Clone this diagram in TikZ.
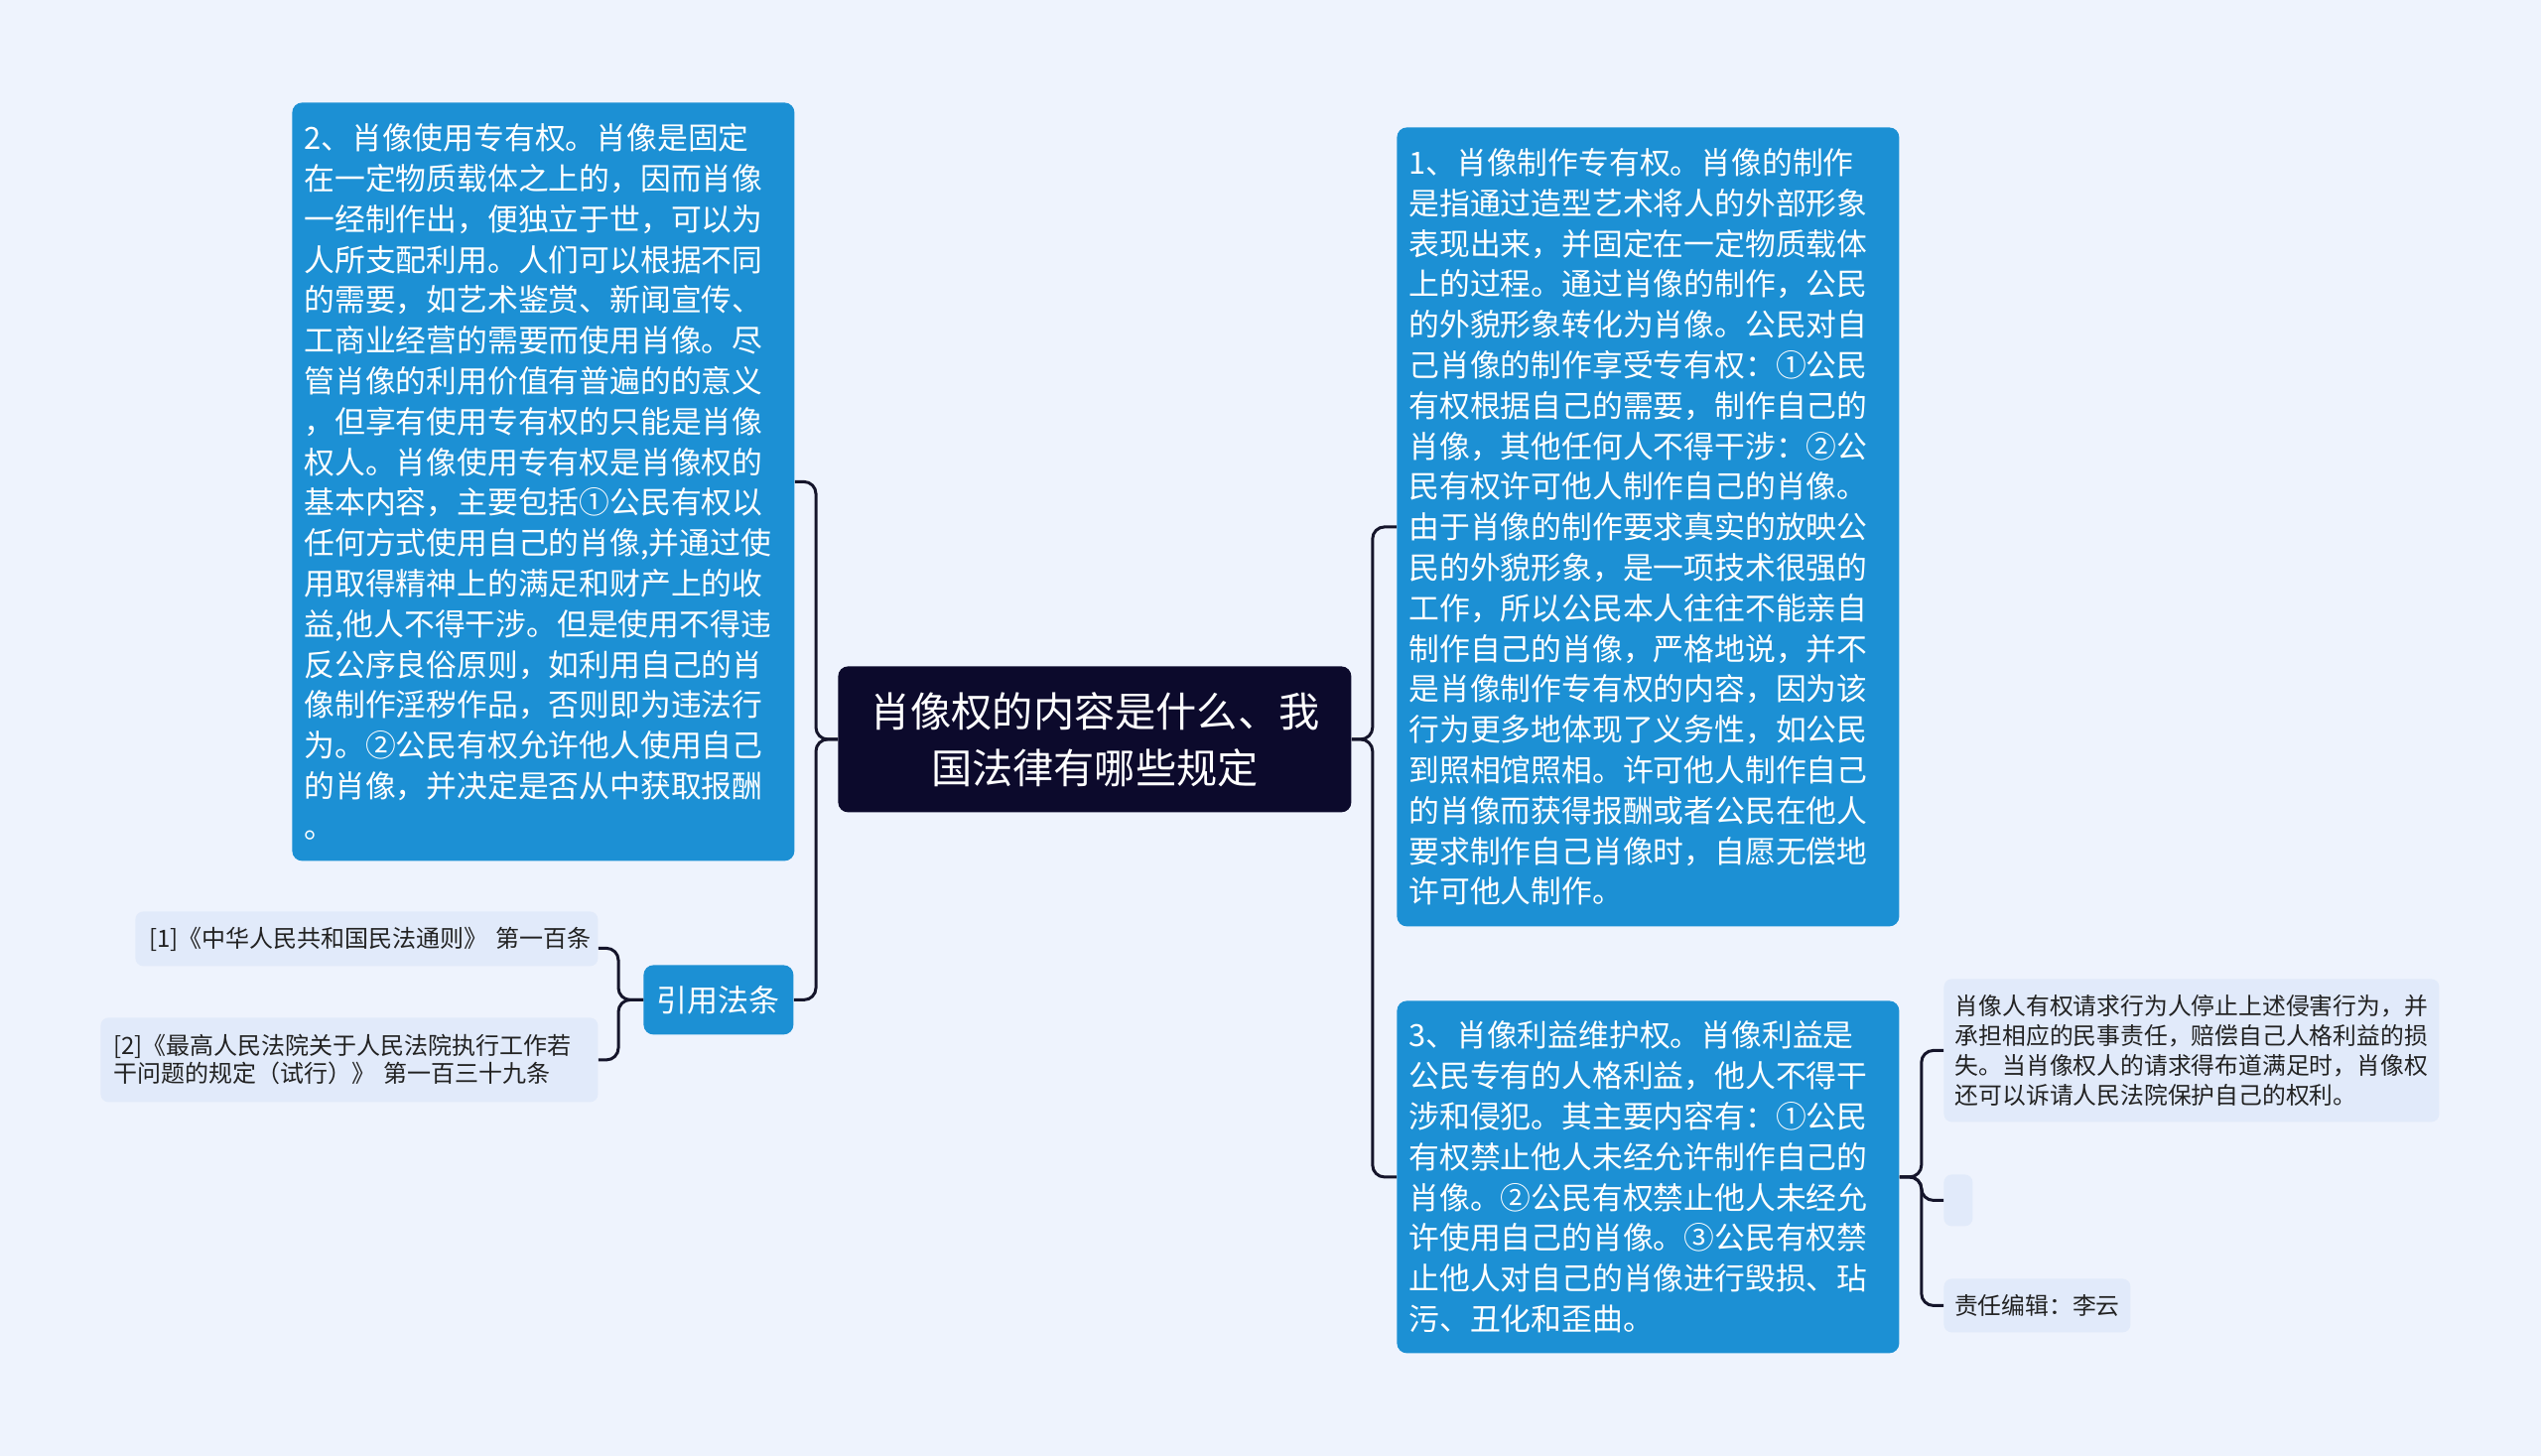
\documentclass[tikz,border=0pt]{standalone}
\usepackage{fontspec}
\setmainfont{Noto Sans CJK SC}
\definecolor{bg}{HTML}{EEF3FD}
\definecolor{bluebox}{HTML}{1C90D4}
\definecolor{darkbox}{HTML}{0C0A2C}
\definecolor{lightbox}{HTML}{E1EAFA}
\definecolor{conn}{HTML}{15152B}
\definecolor{smalltext}{HTML}{222222}
\tikzset{
  bluenode/.style={fill=bluebox, rounded corners=5pt, text=white, anchor=north west,
    inner sep=0pt, align=left, font=\fontsize{15.4pt}{20.4pt}\selectfont},
  rootnode/.style={fill=darkbox, rounded corners=5pt, text=white, anchor=north west,
    inner sep=0pt, align=center, font=\fontsize{20.6pt}{28.5pt}\selectfont},
  lightnode/.style={fill=lightbox, rounded corners=4pt, text=smalltext, anchor=north west,
    inner sep=0pt, align=left},
  conn/.style={draw=conn, line width=1.5pt, rounded corners=6pt},
}
\begin{document}
\begin{tikzpicture}[x=0.5pt, y=-0.5pt]
\fill[bg] (0,0) rectangle (2560,1467);
\useasboundingbox (0,0) rectangle (2560,1467);

% root
\node[rootnode, minimum width=258.5pt, minimum height=73.5pt] (root) at (844,671)
  {肖像权的内容是什么、我\\国法律有哪些规定};

% box 2 (left)
\node[bluenode, minimum width=253pt, minimum height=382pt, text width=241pt] (b2) at (294,103)
  {2、肖像使用专有权。肖像是固定\\
   在一定物质载体之上的，因而肖像\\
   一经制作出，便独立于世，可以为\\
   人所支配利用。人们可以根据不同\\
   的需要，如艺术鉴赏、新闻宣传、\\
   工商业经营的需要而使用肖像。尽\\
   管肖像的利用价值有普遍的的意义\\
   ，但享有使用专有权的只能是肖像\\
   权人。肖像使用专有权是肖像权的\\
   基本内容，主要包括①公民有权以\\
   任何方式使用自己的肖像,并通过使\\
   用取得精神上的满足和财产上的收\\
   益,他人不得干涉。但是使用不得违\\
   反公序良俗原则，如利用自己的肖\\
   像制作淫秽作品，否则即为违法行\\
   为。②公民有权允许他人使用自己\\
   的肖像，并决定是否从中获取报酬\\
   。};

% citation node
\node[bluenode, minimum width=75.5pt, minimum height=35pt, align=center,
      font=\fontsize{15.5pt}{18pt}\selectfont] (cite) at (648,972) {引用法条};

\node[lightnode, minimum width=233pt, minimum height=27.5pt, text width=219pt,
      font=\fontsize{12pt}{14pt}\selectfont] (r1) at (136,918)
  {\mbox{[1]《中华人民共和国民法通则》 第一百条}};
\node[lightnode, minimum width=250.5pt, minimum height=42.5pt, text width=237.5pt,
      font=\fontsize{12pt}{14pt}\selectfont] (r2) at (101,1025)
  {\mbox{[2]《最高人民法院关于人民法院执行工作若}\\\mbox{干问题的规定（试行）》 第一百三十九条}};

% box 1 (right top)
\node[bluenode, minimum width=253pt, minimum height=402.5pt, text width=241pt] (b1) at (1407,128)
  {1、肖像制作专有权。肖像的制作\\
   是指通过造型艺术将人的外部形象\\
   表现出来，并固定在一定物质载体\\
   上的过程。通过肖像的制作，公民\\
   的外貌形象转化为肖像。公民对自\\
   己肖像的制作享受专有权：①公民\\
   有权根据自己的需要，制作自己的\\
   肖像，其他任何人不得干涉：②公\\
   民有权许可他人制作自己的肖像。\\
   由于肖像的制作要求真实的放映公\\
   民的外貌形象，是一项技术很强的\\
   工作，所以公民本人往往不能亲自\\
   制作自己的肖像，严格地说，并不\\
   是肖像制作专有权的内容，因为该\\
   行为更多地体现了义务性，如公民\\
   到照相馆照相。许可他人制作自己\\
   的肖像而获得报酬或者公民在他人\\
   要求制作自己肖像时，自愿无偿地\\
   许可他人制作。};

% box 3 (right bottom)
\node[bluenode, minimum width=253pt, minimum height=177.5pt, text width=241pt] (b3) at (1407,1008)
  {3、肖像利益维护权。肖像利益是\\
   公民专有的人格利益，他人不得干\\
   涉和侵犯。其主要内容有：①公民\\
   有权禁止他人未经允许制作自己的\\
   肖像。②公民有权禁止他人未经允\\
   许使用自己的肖像。③公民有权禁\\
   止他人对自己的肖像进行毁损、玷\\
   污、丑化和歪曲。};

% small nodes right
\node[lightnode, minimum width=249.5pt, minimum height=72pt, text width=238pt,
      font=\fontsize{11.9pt}{15pt}\selectfont] (t1) at (1958,986)
  {肖像人有权请求行为人停止上述侵害行为，并\\
   承担相应的民事责任，赔偿自己人格利益的损\\
   失。当肖像权人的请求得布道满足时，肖像权\\
   还可以诉请人民法院保护自己的权利。};
\node[lightnode, minimum width=14.5pt, minimum height=26pt] (t2) at (1958,1183) {};
\node[lightnode, minimum width=94pt, minimum height=27pt, align=center,
      font=\fontsize{11.9pt}{15pt}\selectfont] (t3) at (1958,1288) {责任编辑：李云};

% connectors
\draw[conn] (root.west) -- ++(-22,0) |- (b2.east);
\draw[conn] (root.west) -- ++(-22,0) |- (cite.east);
\draw[conn] (root.east) -- ++(21,0) |- (b1.west);
\draw[conn] (root.east) -- ++(21,0) |- (b3.west);
\draw[conn] (cite.west) -- ++(-25,0) |- ([yshift=-4.75pt]r1.east);
\draw[conn] (cite.west) -- ++(-25,0) |- (r2.east);
\draw[conn] (b3.east) -- ++(22,0) |- (t1.west);
\draw[conn] (b3.east) -- ++(22,0) |- (t2.west);
\draw[conn] (b3.east) -- ++(22,0) |- (t3.west);
\end{tikzpicture}
\end{document}
